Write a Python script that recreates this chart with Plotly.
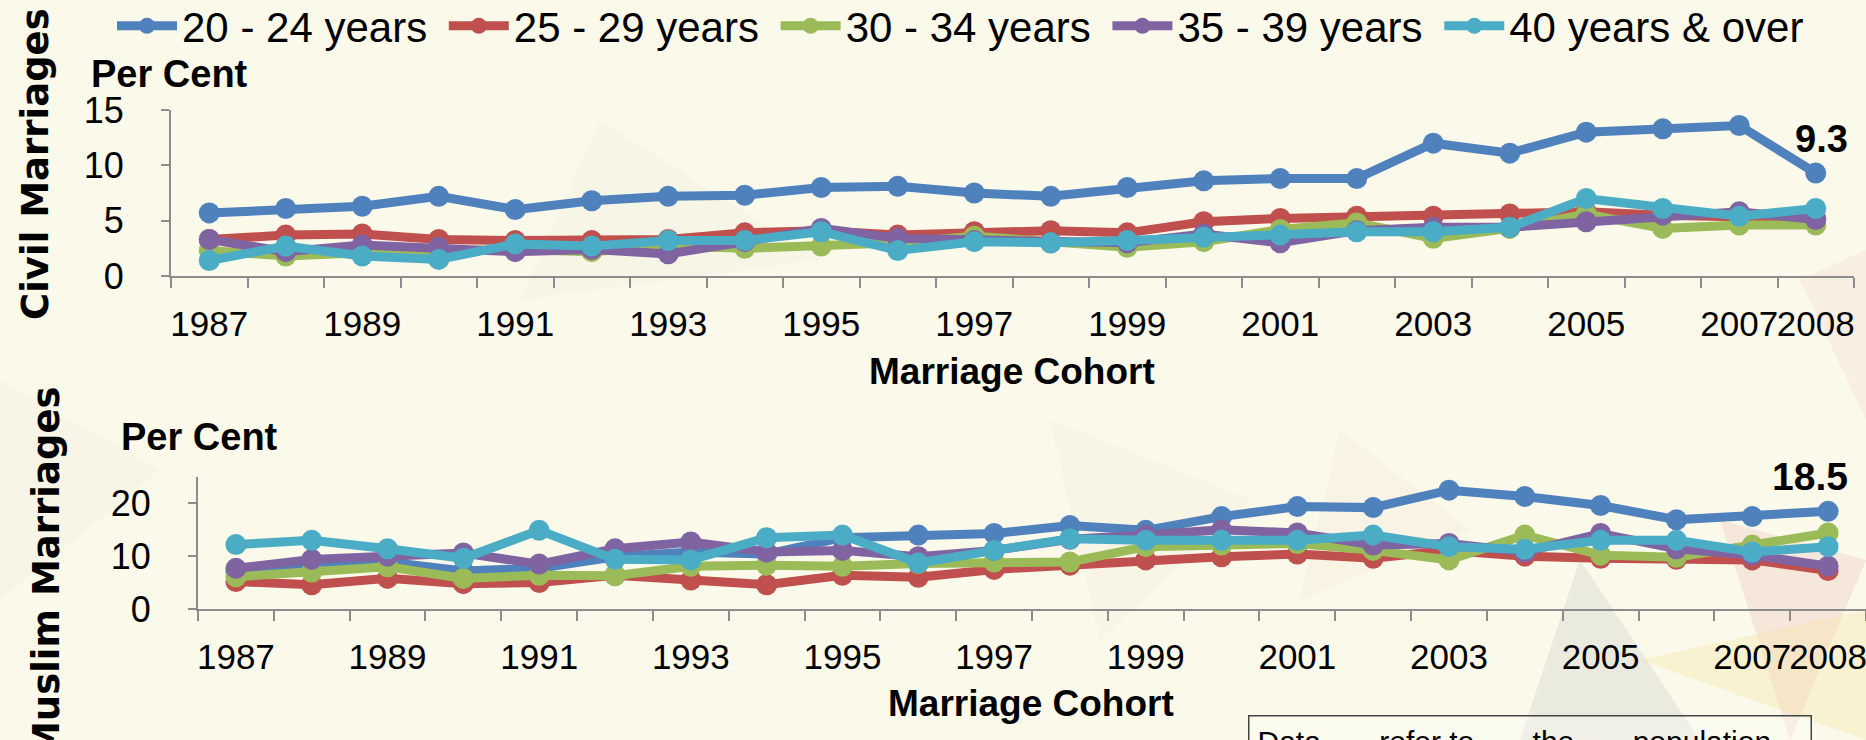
import numpy as np
import plotly.graph_objects as go

# Marriage cohorts
years = list(range(1987, 2009))
tick_years = [1987, 1989, 1991, 1993, 1995, 1997, 1999, 2001, 2003, 2005, 2007, 2008]

series_names = ["20 - 24 years", "25 - 29 years", "30 - 34 years", "35 - 39 years", "40 years & over"]
series_colors = ["#4F81BD", "#C0504D", "#9BBB59", "#8064A2", "#4BACC6"]

# Civil marriages (per cent)
civil_20_24 = [5.7, 6.1, 6.3, 7.2, 6.0, 6.8, 7.2, 7.3, 8.0, 8.1, 7.5, 7.2, 8.0, 8.6, 8.8, 8.8, 12.0, 11.1, 13.0, 13.3, 13.6, 9.3]
civil_25_29 = [3.3, 3.7, 3.8, 3.3, 3.2, 3.2, 3.3, 3.9, 4.1, 3.7, 4.0, 4.1, 3.9, 4.9, 5.2, 5.4, 5.4, 5.6, 5.8, 5.5, 5.3, 5.2]
civil_30_34 = [2.3, 1.8, 2.1, 2.2, 2.4, 2.2, 2.7, 2.5, 2.7, 3.0, 3.6, 3.0, 2.6, 3.1, 4.2, 4.8, 3.4, 4.3, 5.6, 4.3, 4.6, 4.6]
civil_35_39 = [3.3, 2.2, 2.8, 2.6, 2.2, 2.4, 2.0, 3.1, 4.3, 3.4, 3.2, 3.0, 3.0, 3.8, 3.0, 4.1, 4.4, 4.4, 4.9, 5.5, 5.8, 5.1]
civil_40_plus = [1.4, 2.7, 1.8, 1.5, 2.9, 2.7, 3.2, 3.2, 4.0, 2.3, 3.1, 3.0, 3.2, 3.5, 3.7, 4.0, 4.0, 4.4, 7.0, 6.1, 5.4, 6.1]

# Muslim marriages (per cent)
muslim_20_24 = [7.0, 8.6, 8.9, 7.2, 7.7, 9.9, 10.8, 10.4, 13.5, 14.0, 14.3, 15.8, 14.9, 17.5, 19.4, 19.2, 22.5, 21.3, 19.6, 16.9, 17.5, 18.5]
muslim_25_29 = [5.2, 4.6, 5.8, 4.8, 5.0, 6.4, 5.5, 4.6, 6.4, 6.0, 7.5, 8.3, 9.3, 9.9, 10.4, 9.6, 11.1, 10.0, 9.6, 9.4, 9.3, 7.3]
muslim_30_34 = [6.1, 7.0, 8.0, 5.8, 6.4, 6.3, 8.1, 8.3, 8.1, 8.6, 8.9, 8.9, 11.8, 12.1, 12.4, 11.1, 9.3, 14.0, 10.2, 9.8, 12.1, 14.4]
muslim_35_39 = [7.7, 9.4, 10.0, 10.6, 8.5, 11.4, 12.7, 10.8, 11.1, 9.9, 11.1, 13.2, 14.0, 15.0, 14.4, 12.1, 12.4, 10.8, 14.3, 11.4, 10.2, 8.1]
muslim_40_plus = [12.2, 13.0, 11.4, 9.6, 14.9, 9.4, 9.3, 13.5, 14.0, 8.7, 11.1, 13.3, 13.0, 13.0, 13.0, 14.0, 11.8, 11.3, 13.0, 13.0, 10.8, 11.8]

civil = [civil_20_24, civil_25_29, civil_30_34, civil_35_39, civil_40_plus]
muslim = [muslim_20_24, muslim_25_29, muslim_30_34, muslim_35_39, muslim_40_plus]

W, H = 1866, 740
BG = "#FAF9EA"
FONT = "Liberation Sans, Arial, sans-serif"
AXIS_COL = "#8C8C8C"


def px(x):
    return x / W


def py(y):
    return 1 - y / H


fig = go.Figure()

for i, name in enumerate(series_names):
    fig.add_trace(go.Scatter(
        x=years, y=civil[i], name=name + "\u00a0", mode="lines+markers",
        line=dict(color=series_colors[i], width=9),
        marker=dict(color=series_colors[i], size=21),
        legendgroup=name, cliponaxis=False,
        xaxis="x", yaxis="y",
    ))
for i, name in enumerate(series_names):
    fig.add_trace(go.Scatter(
        x=years, y=muslim[i], name=name, mode="lines+markers",
        line=dict(color=series_colors[i], width=9),
        marker=dict(color=series_colors[i], size=21),
        legendgroup=name, showlegend=False, cliponaxis=False,
        xaxis="x2", yaxis="y2",
    ))

boundaries = np.arange(years[0] - 0.5, years[-1] + 1, 1.0)

xaxis_common = dict(
    range=[years[0] - 0.5, years[-1] + 0.5],
    tickmode="array", tickvals=tick_years, ticks="", tickangle=0,
    ticklabeloverflow="allow",
    showline=True, linecolor=AXIS_COL, linewidth=2,
    showgrid=False, zeroline=False,
    tickfont=dict(family=FONT, size=35, color="#000"),
    minor=dict(tickmode="array", tickvals=list(boundaries), ticks="outside",
               ticklen=10, tickwidth=1.5, tickcolor=AXIS_COL, showgrid=False),
    ticklabelstandoff=16,
)
yaxis_common = dict(
    showline=True, linecolor=AXIS_COL, linewidth=2,
    ticks="outside", ticklen=8, tickwidth=1.5, tickcolor=AXIS_COL,
    showgrid=False, zeroline=False,
    tickfont=dict(family=FONT, size=36, color="#000"),
    ticklabelstandoff=30,
)

fig.update_layout(
    width=W, height=H,
    margin=dict(l=0, r=0, t=0, b=0, autoexpand=False),
    paper_bgcolor=BG, plot_bgcolor="rgba(0,0,0,0)",
    xaxis=dict(domain=[px(171), px(1854)], anchor="y", **xaxis_common),
    yaxis=dict(domain=[py(276), py(110)], anchor="x", range=[0, 15],
               tickvals=[0, 5, 10, 15], **yaxis_common),
    xaxis2=dict(domain=[px(198), 1.0], anchor="y2", **xaxis_common),
    yaxis2=dict(domain=[py(609), py(477)], anchor="x2", range=[0, 25],
                tickvals=[0, 10, 20], **yaxis_common),
    legend=dict(orientation="h", x=px(112), xanchor="left", y=py(26), yanchor="middle",
                font=dict(family=FONT, size=42, color="#000"),
                bgcolor="rgba(0,0,0,0)", itemwidth=60, tracegroupgap=0),
    showlegend=True,
)

# faint background triangles
tri = [
    ([(1580, 560), (1700, 740), (1520, 740)], "rgba(200,200,200,0.3)"),
    ([(1720, 520), (1866, 560), (1790, 740)], "rgba(240,190,185,0.3)"),
    ([(1640, 660), (1866, 610), (1866, 740)], "rgba(245,225,150,0.3)"),
    ([(1340, 430), (1470, 530), (1300, 600)], "rgba(240,205,200,0.12)"),
    ([(1800, 280), (1866, 250), (1866, 420)], "rgba(240,200,195,0.2)"),
    ([(600, 120), (820, 260), (520, 300)], "rgba(235,232,215,0.2)"),
    ([(1050, 420), (1250, 500), (1100, 640)], "rgba(240,225,215,0.18)"),
    ([(0, 380), (160, 470), (0, 600)], "rgba(240,215,205,0.15)"),
]
for pts, col in tri:
    path = "M " + " L ".join(f"{px(x):.4f},{py(y):.4f}" for x, y in pts) + " Z"
    fig.add_shape(type="path", path=path, xref="paper", yref="paper",
                  fillcolor=col, line=dict(width=0), layer="below")

ann = []
bold = dict(family=FONT, size=38, color="#000")
ann.append(dict(text="<b>Per Cent</b>", x=px(89), y=py(74), xanchor="left", yanchor="middle", font=bold))
ann.append(dict(text="<b>Per Cent</b>", x=px(119), y=py(437), xanchor="left", yanchor="middle", font=bold))
ann.append(dict(text="<b>Marriage Cohort</b>", x=px(1012), y=py(371), xanchor="center", yanchor="middle",
                font=dict(family=FONT, size=37, color="#000")))
ann.append(dict(text="<b>Marriage Cohort</b>", x=px(1031), y=py(703), xanchor="center", yanchor="middle",
                font=dict(family=FONT, size=37, color="#000")))
vfont = dict(family="DejaVu Sans, Verdana, sans-serif", size=37, color="#000")
ann.append(dict(text="<b>Civil Marriages</b>", x=px(36), y=py(164), textangle=-90,
                xanchor="center", yanchor="middle", font=vfont))
ann.append(dict(text="<b>Muslim Marriages</b>", x=px(46), y=py(572), textangle=-90,
                xanchor="center", yanchor="middle", font=vfont))
for a in ann:
    a.update(xref="paper", yref="paper", showarrow=False)
    fig.add_annotation(**a)

# end-point labels
fig.add_annotation(x=years[-1], y=civil_20_24[-1], xref="x", yref="y",
                   text=f"<b>{civil_20_24[-1]}</b>", showarrow=False,
                   xshift=6, yshift=34, font=dict(family=FONT, size=38, color="#000"))
fig.add_annotation(x=years[-1], y=muslim_20_24[-1], xref="x2", yref="y2",
                   text=f"<b>{muslim_20_24[-1]}</b>", showarrow=False,
                   xshift=-18, yshift=35, font=dict(family=FONT, size=39, color="#000"))

# clipped note box at bottom right
gap = "\u00a0" * 7
fig.add_annotation(x=px(1248), y=py(715), xref="paper", yref="paper",
                   xanchor="left", yanchor="top", align="left", showarrow=False,
                   text=f"Data{gap}refer to{gap}the{gap}population",
                   width=545, borderpad=8, bordercolor="#444", borderwidth=1.5,
                   bgcolor="rgba(255,255,255,0.3)",
                   font=dict(family=FONT, size=30, color="#000"))

fig.write_html("out.html", config={"displayModeBar": False},
               post_script="document.body.style.margin='0';")
